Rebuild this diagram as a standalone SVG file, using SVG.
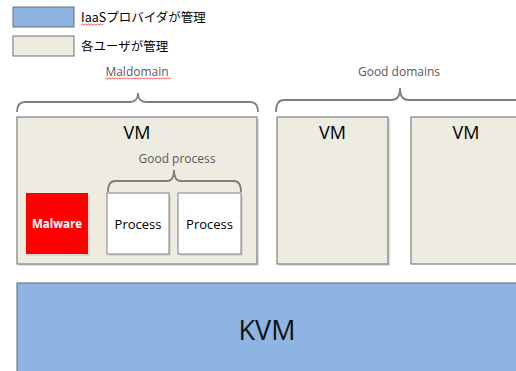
<svg xmlns="http://www.w3.org/2000/svg" width="516" height="371" viewBox="0 0 516 371">
  <style>
    .lbl { font-family: "Open Sans", "Liberation Sans", "Noto Sans CJK JP", sans-serif; }
    .jp { font-family: "Noto Sans CJK JP", sans-serif; font-size: 12.5px; fill: #000; }
    .cap { font-size: 12px; fill: #595959; text-anchor: middle; }
    .vm { fill: #EEECE1; stroke: #7F7F7F; stroke-width: 1.2; }
    .proc { fill: #FFFFFF; stroke: #7F7F7F; stroke-width: 1; }
    .shadow { fill: #C8C8C8; opacity: 0.6; }
    .brace { fill: none; stroke: #7F7F7F; stroke-width: 1.8; }
    .squiggle { fill: none; stroke: #FF3030; stroke-width: 0.8; }
  </style>

  <rect width="516" height="371" fill="#FFFFFF"/>

  <!-- legend -->
  <g id="legend">
    <rect x="13" y="7" width="61" height="20" fill="#8EB4E3" stroke="#6F6F6F" stroke-width="1"/>
    <text class="jp" x="81" y="21.5">IaaSプロバイダが管理</text>
    <path class="squiggle" d="M81,25 l1.5,-1 l1.5,1 l1.5,-1 l1.5,1 l1.5,-1 l1.5,1 l1.5,-1 l1.5,1 l1.5,-1 l1.5,1 l1.5,-1 l1.5,1 l1.5,-1 l1.5,1 l1.5,-1"/>
    <rect x="13" y="36" width="61" height="20" fill="#EEECE1" stroke="#6F6F6F" stroke-width="1"/>
    <text class="jp" x="81" y="50.5">各ユーザが管理</text>
  </g>

  <!-- group captions -->
  <g id="maldomain">
    <text class="lbl cap" x="137" y="76">Maldomain</text>
    <path class="squiggle" d="M105,79 l1.5,-1 l1.5,1 l1.5,-1 l1.5,1 l1.5,-1 l1.5,1 l1.5,-1 l1.5,1 l1.5,-1 l1.5,1 l1.5,-1 l1.5,1 l1.5,-1 l1.5,1 l1.5,-1 l1.5,1 l1.5,-1 l1.5,1 l1.5,-1 l1.5,1 l1.5,-1 l1.5,1 l1.5,-1 l1.5,1 l1.5,-1 l1.5,1 l1.5,-1 l1.5,1 l1.5,-1 l1.5,1 l1.5,-1 l1.5,1 l1.5,-1 l1.5,1 l1.5,-1 l1.5,1 l1.5,-1 l1.5,1 l1.5,-1 l1.5,1 l1.5,-1 l1.5,1 l1.5,-1 l1.5,1"/>
  </g>
  <g id="good-domains">
    <text class="lbl cap" x="399" y="76">Good domains</text>
  </g>

  <!-- curly braces grouping the domains -->
  <g id="braces">
    <path class="brace" d="M17,112 Q17,102 25,102 L130,102 Q138,102 138,93 Q138,102 146,102 L250,102 Q258,102 258,112"/>
    <path class="brace" d="M276,112 Q276,100 284,100 L392,100 Q400,100 400,88 Q400,100 408,100 L520,100"/>
  </g>

  <!-- VM 1 (malicious domain) -->
  <g id="vm-mal">
    <rect class="shadow" x="19" y="119" width="240" height="147"/>
    <rect class="vm" x="17" y="117" width="240" height="147"/>
    <text class="lbl" x="137" y="139" font-size="18" text-anchor="middle" fill="#000">VM</text>
    <text class="lbl cap" x="177" y="163">Good process</text>
    <path class="brace" d="M108,192 Q108,181 115,181 L167,181 Q174,181 174,170 Q174,181 181,181 L234,181 Q241,181 241,192"/>
  </g>

  <g id="malware">
    <rect class="shadow" x="28" y="195" width="62" height="61"/>
    <rect x="26" y="193" width="62" height="61" fill="#FF0000"/>
    <text class="lbl" x="57" y="228" font-size="11.5" font-weight="bold" text-anchor="middle" fill="#FFFFFF">Malware</text>
  </g>

  <g id="process-1">
    <rect class="shadow" x="109" y="195" width="62" height="61"/>
    <rect class="proc" x="107" y="193" width="62" height="61"/>
    <text class="lbl" x="138" y="229" font-size="13" text-anchor="middle" fill="#000">Process</text>
  </g>

  <g id="process-2">
    <rect class="shadow" x="180" y="195" width="63" height="61"/>
    <rect class="proc" x="178" y="193" width="63" height="61"/>
    <text class="lbl" x="209.5" y="229" font-size="13" text-anchor="middle" fill="#000">Process</text>
  </g>

  <!-- VM 2 and VM 3 (good domains) -->
  <g id="vm-good-1">
    <rect class="shadow" x="279" y="119" width="111" height="147"/>
    <rect class="vm" x="277" y="117" width="111" height="147"/>
    <text class="lbl" x="332.5" y="139" font-size="18" text-anchor="middle" fill="#000">VM</text>
  </g>

  <g id="vm-good-2">
    <rect class="vm" x="411" y="117" width="120" height="147"/>
    <text class="lbl" x="466" y="139" font-size="18" text-anchor="middle" fill="#000">VM</text>
  </g>

  <!-- hypervisor -->
  <g id="kvm">
    <rect x="17" y="283" width="520" height="100" fill="#8EB4E3" stroke="#5F6670" stroke-width="1"/>
    <text class="lbl" x="267" y="340" font-size="27" text-anchor="middle" fill="#111">KVM</text>
  </g>
</svg>
